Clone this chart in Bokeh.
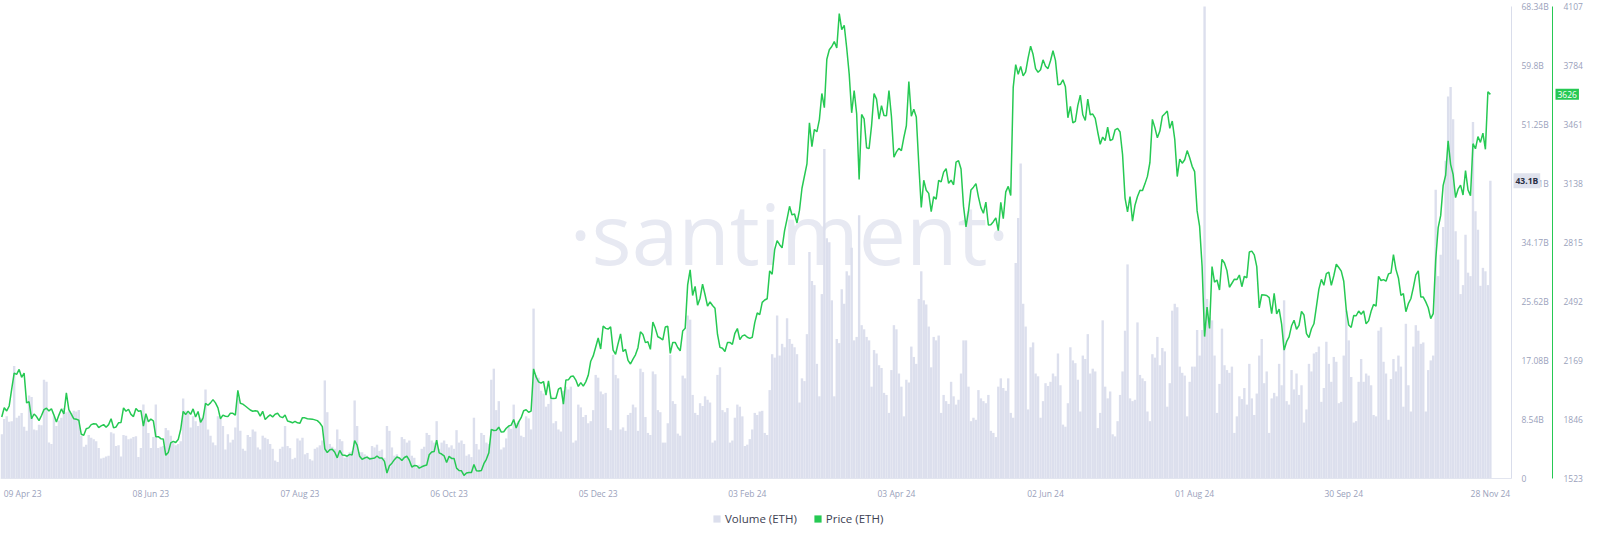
import numpy as np
from bokeh.plotting import figure
from bokeh.models import Range1d, LinearAxis, FixedTicker, Label, Legend, LegendItem
from bokeh.embed import file_html
from bokeh.resources import INLINE

# ---------------- data (daily, 09 Apr 2023 .. 28 Nov 2024) ----------------
price_2023_04 = [1860, 1910, 1893, 1920, 2012, 2100, 2093, 2120, 2077, 2100, 1937, 1943, 1850, 1876, 1862, 1840, 1868, 1900, 1908, 1893, 1905, 1870]
price_2023_05 = [1832, 1870, 1904, 1876, 1992, 1900, 1875, 1850, 1848, 1842, 1765, 1760, 1795, 1800, 1818, 1823, 1822, 1802, 1811, 1818, 1804, 1818, 1850, 1800, 1805, 1828, 1830, 1909, 1891, 1902, 1874]
price_2023_06 = [1862, 1906, 1891, 1894, 1810, 1878, 1834, 1848, 1839, 1752, 1752, 1741, 1739, 1650, 1665, 1718, 1726, 1720, 1736, 1791, 1890, 1873, 1892, 1874, 1904, 1860, 1890, 1830, 1854, 1934]
price_2023_07 = [1924, 1937, 1955, 1937, 1910, 1850, 1870, 1864, 1862, 1880, 1880, 1870, 2006, 1935, 1930, 1920, 1909, 1898, 1891, 1894, 1891, 1865, 1891, 1846, 1860, 1871, 1860, 1875, 1880, 1862, 1856]
price_2023_08 = [1871, 1838, 1834, 1828, 1836, 1828, 1826, 1856, 1855, 1850, 1849, 1848, 1844, 1840, 1827, 1807, 1686, 1665, 1680, 1683, 1667, 1636, 1677, 1652, 1650, 1645, 1655, 1652, 1730, 1706, 1645]
price_2023_09 = [1628, 1635, 1640, 1630, 1633, 1635, 1646, 1635, 1635, 1617, 1553, 1593, 1607, 1626, 1641, 1635, 1622, 1638, 1645, 1623, 1586, 1594, 1593, 1580, 1587, 1593, 1597, 1653, 1668, 1671]
price_2023_10 = [1733, 1663, 1657, 1647, 1611, 1644, 1633, 1633, 1580, 1567, 1565, 1540, 1553, 1556, 1556, 1600, 1565, 1564, 1567, 1604, 1628, 1664, 1792, 1786, 1787, 1804, 1777, 1779, 1798, 1810, 1815]
price_2023_11 = [1846, 1799, 1833, 1856, 1894, 1899, 1886, 1892, 2123, 2079, 2052, 2045, 2054, 1980, 2058, 1962, 1961, 1962, 2012, 2021, 1930, 2062, 2063, 2081, 2084, 2062, 2027, 2048, 2029, 2052]
price_2023_12 = [2088, 2165, 2194, 2243, 2292, 2232, 2358, 2345, 2341, 2353, 2226, 2203, 2261, 2315, 2218, 2230, 2170, 2150, 2177, 2200, 2239, 2326, 2311, 2267, 2272, 2230, 2380, 2345, 2299, 2292, 2282]
price_2024_01 = [2352, 2356, 2208, 2268, 2268, 2240, 2222, 2330, 2345, 2583, 2665, 2525, 2575, 2472, 2510, 2587, 2529, 2467, 2490, 2470, 2455, 2313, 2241, 2236, 2218, 2267, 2268, 2257, 2318, 2344, 2283]
price_2024_02 = [2304, 2309, 2296, 2290, 2296, 2376, 2430, 2420, 2487, 2500, 2507, 2660, 2641, 2775, 2825, 2803, 2786, 2880, 2944, 3013, 2966, 2971, 2922, 2992, 3112, 3179, 3245, 3470, 3340]
price_2024_03 = [3434, 3421, 3488, 3631, 3553, 3818, 3870, 3888, 3915, 3880, 4068, 3980, 4004, 3880, 3737, 3525, 3647, 3520, 3160, 3516, 3492, 3334, 3329, 3455, 3630, 3600, 3490, 3564, 3510, 3509, 3647]
price_2024_04 = [3505, 3282, 3311, 3330, 3318, 3391, 3454, 3696, 3506, 3545, 3502, 3243, 3007, 3156, 3101, 3084, 2984, 3066, 3052, 3155, 3147, 3200, 3219, 3139, 3156, 3131, 3255, 3263, 3217, 3014]
price_2024_05 = [2900, 2988, 3103, 3118, 3137, 3065, 3006, 2975, 3036, 2911, 2912, 2929, 2950, 2880, 3035, 2945, 3092, 3122, 3072, 3664, 3789, 3736, 3779, 3727, 3749, 3826, 3890, 3844, 3767, 3747, 3761]
price_2024_06 = [3815, 3780, 3767, 3810, 3865, 3812, 3678, 3681, 3706, 3667, 3498, 3560, 3470, 3478, 3566, 3622, 3514, 3483, 3600, 3514, 3518, 3495, 3420, 3353, 3392, 3373, 3446, 3373, 3380, 3432]
price_2024_07 = [3440, 3420, 3296, 3058, 2983, 3066, 2932, 3019, 3067, 3101, 3099, 3136, 3177, 3253, 3489, 3444, 3388, 3425, 3506, 3520, 3535, 3440, 3480, 3380, 3176, 3272, 3249, 3268, 3318, 3279, 3232]
price_2024_08 = [3203, 2988, 2903, 2685, 2300, 2461, 2345, 2683, 2598, 2610, 2555, 2723, 2703, 2661, 2570, 2592, 2614, 2612, 2637, 2573, 2630, 2622, 2763, 2768, 2747, 2683, 2457, 2529, 2528, 2525, 2513]
price_2024_09 = [2425, 2537, 2424, 2450, 2368, 2226, 2272, 2298, 2359, 2389, 2340, 2361, 2438, 2418, 2316, 2294, 2343, 2370, 2464, 2560, 2613, 2581, 2645, 2653, 2580, 2633, 2696, 2678, 2658, 2603]
price_2024_10 = [2448, 2363, 2350, 2415, 2414, 2440, 2422, 2441, 2370, 2386, 2438, 2476, 2467, 2630, 2607, 2612, 2603, 2643, 2648, 2749, 2668, 2621, 2526, 2535, 2436, 2480, 2507, 2568, 2638, 2660, 2517]
price_2024_11 = [2516, 2490, 2458, 2398, 2426, 2722, 2896, 2962, 3128, 3183, 3372, 3243, 3188, 3061, 3107, 3129, 3075, 3209, 3103, 3071, 3356, 3328, 3395, 3363, 3414, 3325, 3640, 3626]

# volume in billions
vol_2023_04 = [6.4, 8.6, 9.0, 8.2, 8.3, 16.3, 8.8, 9.1, 9.5, 7.5, 6.9, 12.0, 11.8, 7.1, 7.0, 7.8, 7.7, 14.3, 14.0, 5.2, 5.0, 9.0]
vol_2023_05 = [7.6, 8.4, 8.8, 10.2, 9.6, 9.8, 9.5, 9.8, 9.7, 9.9, 6.2, 4.6, 4.9, 6.3, 5.9, 5.7, 5.4, 4.4, 2.9, 3.0, 3.2, 3.3, 6.7, 6.5, 4.7, 4.8, 3.2, 6.3, 6.2, 5.7, 5.8]
vol_2023_06 = [6.0, 6.1, 3.1, 4.4, 10.7, 9.0, 6.6, 4.4, 6.0, 10.7, 4.4, 4.6, 4.7, 7.3, 7.0, 6.2, 5.2, 4.8, 5.0, 5.4, 11.6, 9.8, 9.5, 7.4, 9.0, 8.3, 7.6, 8.8, 8.6, 12.9]
vol_2023_07 = [7.1, 6.2, 5.2, 4.8, 9.0, 8.6, 7.6, 4.2, 6.4, 5.2, 5.6, 7.4, 11.6, 6.9, 4.3, 4.0, 6.3, 6.0, 7.1, 6.8, 4.5, 4.2, 6.2, 5.9, 5.7, 5.0, 4.3, 2.6, 2.4, 4.3, 4.6]
vol_2023_08 = [7.6, 4.7, 4.4, 2.8, 3.0, 5.8, 5.5, 5.9, 3.5, 3.7, 2.8, 2.6, 4.3, 4.5, 4.8, 5.5, 14.2, 9.6, 5.0, 4.6, 4.3, 7.1, 5.7, 5.4, 3.0, 3.2, 3.8, 4.0, 11.3, 7.6, 3.8]
vol_2023_09 = [3.8, 3.5, 3.3, 3.1, 4.7, 4.5, 4.9, 4.0, 4.2, 3.0, 7.6, 6.9, 4.5, 3.3, 3.5, 3.1, 6.0, 5.7, 5.2, 5.5, 3.3, 3.0, 1.6, 2.0, 4.3, 4.6, 6.6, 6.3, 5.5, 5.2]
vol_2023_10 = [8.3, 4.3, 5.2, 5.5, 5.0, 4.5, 4.8, 4.3, 7.0, 5.2, 5.5, 5.0, 3.3, 3.5, 3.1, 8.8, 5.0, 4.2, 6.6, 6.3, 5.2, 5.0, 14.3, 15.9, 9.9, 11.2, 4.2, 4.5, 5.8, 7.5, 7.2]
vol_2023_11 = [10.7, 8.0, 8.3, 6.2, 6.0, 9.0, 8.7, 7.1, 24.6, 15.0, 14.6, 12.7, 12.3, 10.4, 10.8, 11.9, 8.0, 8.3, 7.1, 6.8, 12.7, 13.3, 12.9, 13.3, 5.2, 5.5, 10.7, 10.3, 8.9, 9.2]
vol_2023_12 = [8.0, 8.3, 9.9, 15.0, 14.6, 12.6, 12.2, 12.4, 7.3, 7.0, 17.9, 15.0, 14.5, 7.1, 7.4, 6.9, 9.2, 9.5, 10.7, 10.3, 6.9, 15.9, 15.4, 8.9, 6.6, 6.3, 15.5, 15.1, 9.9, 9.6, 5.2]
vol_2024_01 = [5.2, 8.0, 17.9, 11.2, 10.8, 6.5, 6.2, 14.9, 14.5, 23.6, 23.0, 12.1, 9.5, 9.2, 10.9, 10.5, 11.9, 11.4, 11.0, 5.2, 5.5, 15.0, 16.1, 9.9, 9.6, 10.2, 5.2, 5.5, 8.8, 10.7, 10.4]
vol_2024_02 = [9.0, 4.7, 4.9, 5.7, 7.1, 9.5, 9.2, 9.7, 9.8, 6.6, 6.3, 12.8, 18.0, 17.5, 23.6, 17.8, 19.5, 19.0, 23.2, 20.2, 19.5, 19.0, 18.0, 11.0, 14.5, 14.1, 20.9, 32.8, 28.6]
vol_2024_03 = [28.0, 16.6, 11.9, 26.7, 47.7, 34.8, 34.2, 25.8, 11.9, 20.2, 19.6, 27.4, 25.3, 30.0, 29.4, 33.4, 20.0, 20.5, 38.1, 22.2, 21.6, 20.5, 20.0, 13.3, 18.6, 18.1, 16.4, 16.0, 12.4, 12.1, 9.5]
vol_2024_04 = [15.7, 22.2, 21.6, 15.2, 13.3, 9.0, 14.3, 13.9, 19.1, 17.6, 16.6, 26.0, 30.0, 25.8, 25.2, 22.0, 16.1, 20.5, 20.0, 20.7, 9.5, 12.1, 11.2, 10.8, 14.0, 11.9, 10.7, 11.4, 15.2, 20.0]
vol_2024_05 = [20.0, 13.3, 8.3, 8.8, 8.5, 12.8, 11.6, 11.2, 10.9, 12.1, 6.9, 6.6, 6.0, 13.3, 14.5, 13.1, 12.7, 14.5, 9.5, 8.8, 31.2, 37.7, 45.6, 25.3, 22.0, 10.0, 19.0, 19.7, 15.2, 14.8, 8.8]
vol_2024_06 = [11.2, 13.8, 13.4, 14.0, 15.2, 14.8, 18.1, 13.5, 7.8, 7.5, 10.9, 19.0, 17.1, 16.7, 14.3, 9.7, 17.8, 17.3, 20.9, 15.2, 15.9, 15.5, 7.3, 9.5, 22.9, 13.3, 11.6, 12.6, 6.4, 6.1]
vol_2024_07 = [8.3, 12.1, 15.5, 21.4, 31.0, 11.6, 11.2, 11.4, 22.6, 15.0, 14.5, 14.1, 9.7, 8.3, 18.0, 17.5, 20.5, 16.4, 18.9, 18.4, 10.4, 13.8, 24.3, 25.3, 24.8, 16.2, 15.3, 14.9, 9.0, 14.0, 16.2]
vol_2024_08 = [16.2, 21.5, 17.8, 21.5, 68.34, 26.0, 23.4, 22.9, 17.8, 9.5, 13.7, 21.7, 16.4, 15.7, 15.3, 16.2, 6.6, 9.0, 11.9, 11.5, 13.1, 10.7, 16.6, 11.6, 9.2, 12.3, 17.8, 20.2, 13.8, 15.5, 6.6]
vol_2024_09 = [11.6, 12.4, 11.9, 16.6, 13.5, 25.8, 11.2, 10.7, 15.7, 12.9, 15.2, 12.1, 13.5, 8.1, 10.0, 16.6, 15.5, 18.1, 18.3, 19.1, 11.1, 13.1, 19.8, 16.6, 14.0, 17.6, 16.9, 10.9, 11.1, 17.8]
vol_2024_10 = [24.3, 20.0, 14.7, 8.1, 8.3, 14.0, 17.3, 14.0, 15.2, 14.9, 13.5, 9.2, 9.0, 21.4, 21.9, 16.9, 15.2, 8.5, 14.4, 17.3, 15.5, 17.8, 16.2, 10.4, 22.4, 13.5, 9.7, 19.1, 22.2, 21.4, 19.5]
vol_2024_11 = [19.7, 9.7, 15.7, 17.1, 17.8, 41.8, 29.3, 32.4, 36.4, 46.0, 55.3, 56.7, 52.0, 35.8, 31.7, 26.7, 28.0, 35.3, 29.8, 29.3, 51.6, 38.7, 36.0, 27.9, 30.5, 30.0, 28.0, 43.1]

x_tick_days = [8.4, 60, 120, 180, 240, 300, 360, 420, 480, 540, 599]
x_tick_labels = ["09 Apr 23", "08 Jun 23", "07 Aug 23", "06 Oct 23", "05 Dec 23", "03 Feb 24",
                 "03 Apr 24", "02 Jun 24", "01 Aug 24", "30 Sep 24", "28 Nov 24"]
vol_ticks = [0, 8.54, 17.08, 25.62, 34.17, 42.71, 51.25, 59.8, 68.34]
vol_tick_labels = ["0", "8.54B", "17.08B", "25.62B", "34.17B", "42.71B", "51.25B", "59.8B", "68.34B"]
price_ticks = [1523, 1846, 2169, 2492, 2815, 3138, 3461, 3784, 4107]

price = (price_2023_04 + price_2023_05 + price_2023_06 + price_2023_07 + price_2023_08 +
         price_2023_09 + price_2023_10 + price_2023_11 + price_2023_12 + price_2024_01 +
         price_2024_02 + price_2024_03 + price_2024_04 + price_2024_05 + price_2024_06 +
         price_2024_07 + price_2024_08 + price_2024_09 + price_2024_10 + price_2024_11)
volume = (vol_2023_04 + vol_2023_05 + vol_2023_06 + vol_2023_07 + vol_2023_08 +
          vol_2023_09 + vol_2023_10 + vol_2023_11 + vol_2023_12 + vol_2024_01 +
          vol_2024_02 + vol_2024_03 + vol_2024_04 + vol_2024_05 + vol_2024_06 +
          vol_2024_07 + vol_2024_08 + vol_2024_09 + vol_2024_10 + vol_2024_11)
days = np.arange(len(price))

# ---------------- layout / style ----------------
GREEN = "#26c953"
VOL = "#dcdfed"
LABEL = "#9aa1bb"
FONT = "Open Sans"

FW = 1584                  # frame = whole figure width
DATA_W = 1511              # px used by the time window
X0, X1_DATA = -0.5, 607.5  # time window (days)
PX_PER_DAY = DATA_W / (X1_DATA - X0)
X_END = X0 + FW / PX_PER_DAY
GAP_AXES = 41              # px between the two right axes

FH = 526                   # frame = whole figure height
SPAN_H, PAD_TOP = 472, 6
PAD_BOT = FH - SPAN_H - PAD_TOP
v_lo, v_hi = vol_ticks[0], vol_ticks[-1]
p_lo, p_hi = price_ticks[0], price_ticks[-1]
v_pp = (v_hi - v_lo) / SPAN_H
p_pp = (p_hi - p_lo) / SPAN_H

p = figure(frame_width=FW, frame_height=FH,
           x_range=Range1d(X0, X_END),
           y_range=Range1d(v_lo - PAD_BOT * v_pp, v_hi + PAD_TOP * v_pp),
           output_backend="svg", toolbar_location=None, y_axis_location=None,
           min_border_left=0, min_border_top=0, min_border_right=0, min_border_bottom=0)
p.extra_y_ranges = {"price": Range1d(p_lo - PAD_BOT * p_pp, p_hi + PAD_TOP * p_pp)}
p.outline_line_color = None
p.xgrid.visible = False
p.ygrid.visible = False

# watermark
p.add_layout(Label(x=789, y=294, x_units="screen", y_units="screen", text="·santiment·",
                   text_align="center", text_baseline="alphabetic", text_font=FONT,
                   text_font_size="84px", text_color="#e7e9f2", level="underlay"))

vol_r = p.vbar(x=days, top=volume, bottom=0, width=0.96, fill_color=VOL, line_color=None)
p.line(days, price, y_range_name="price", line_color=GREEN, line_width=1.5)
# zero-height proxy at the last price point: only gives the legend its green square
price_key = p.vbar(x=[days[-1]], top=[price[-1]], bottom=[price[-1]], width=0.8,
                   fill_color=GREEN, line_color=None, y_range_name="price")

# x axis drawn at volume 0
xa = p.xaxis[0]
xa.fixed_location = 0
xa.bounds = (X0, X1_DATA)
xa.ticker = FixedTicker(ticks=x_tick_days)
xa.major_label_overrides = {d: l for d, l in zip(x_tick_days, x_tick_labels)}
xa.axis_line_color = "#e2e5ef"
xa.major_tick_line_color = None
xa.minor_tick_line_color = None
xa.major_label_standoff = 3
xa.major_label_text_font = FONT
xa.major_label_text_font_size = "8.5px"
xa.major_label_text_color = LABEL

# right axes drawn inside the frame at fixed locations
vol_axis = LinearAxis(ticker=FixedTicker(ticks=vol_ticks), fixed_location=X1_DATA,
                      bounds=(v_lo, v_hi),
                      major_label_overrides={t: l for t, l in zip(vol_ticks, vol_tick_labels)})
price_axis = LinearAxis(y_range_name="price", ticker=FixedTicker(ticks=price_ticks),
                        fixed_location=X1_DATA + GAP_AXES / PX_PER_DAY, bounds=(p_lo, p_hi))
for ax in (vol_axis, price_axis):
    ax.major_tick_line_color = None
    ax.minor_tick_line_color = None
    ax.major_label_text_font = FONT
    ax.major_label_text_font_size = "8.5px"
    ax.major_label_text_color = LABEL
vol_axis.axis_line_color = "#d9ddeb"
vol_axis.major_label_standoff = 4
price_axis.axis_line_color = GREEN
price_axis.major_label_standoff = 5
p.add_layout(vol_axis, "right")
p.add_layout(price_axis, "right")

# last-value badges
p.add_layout(Label(x=DATA_W + 2, y=volume[-1], x_units="screen", text=f"{volume[-1]}B",
                   text_align="left", text_baseline="middle", text_font=FONT,
                   text_font_size="8.5px", text_font_style="bold", text_color="#2a2f44",
                   background_fill_color="#dfe2ed", padding=2))
p.add_layout(Label(x=DATA_W + GAP_AXES + 3, y=price[-1], y_range_name="price", x_units="screen",
                   text=str(price[-1]), text_align="left", text_baseline="middle",
                   text_font=FONT, text_font_size="8.5px", text_color="white",
                   background_fill_color=GREEN, padding=2))

legend = Legend(items=[LegendItem(label="Volume (ETH)", renderers=[vol_r]),
                       LegendItem(label="Price (ETH)", renderers=[price_key])],
                orientation="horizontal", location=(712, 0),
                glyph_width=9, glyph_height=9, label_height=14, label_standoff=4, spacing=16,
                padding=0, margin=0, border_line_color=None, background_fill_alpha=0,
                label_text_font=FONT, label_text_font_size="11.5px",
                label_text_color="#3d4152")
p.add_layout(legend)

open("out.html", "w").write(file_html(p, INLINE))
